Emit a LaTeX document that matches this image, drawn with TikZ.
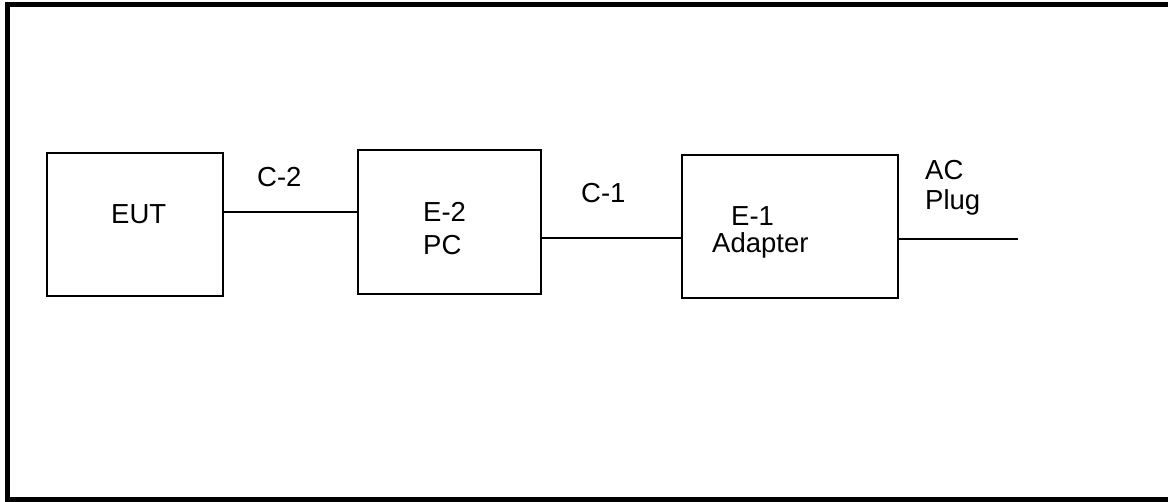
\documentclass[tikz,border=0pt]{standalone}
\usepackage{fontspec}
\setmainfont{Liberation Sans}
\begin{document}
\begin{tikzpicture}[x=1pt,y=-1pt,
  blk/.style={draw=black, line width=1.2pt, inner sep=0pt, rectangle},
  wire/.style={draw=black, line width=1.2pt},
  lbl/.style={anchor=base west, inner sep=0pt, font=\fontsize{27.5}{33}\selectfont}]
\useasboundingbox (0,0) rectangle (1168,502);
\draw[line width=5pt, line join=miter] (1180,4.5) -- (7.5,4.5) -- (7.5,499.5) -- (1180,499.5);
% boxes
\node[blk, minimum width=176pt, minimum height=143pt] (eut) at (135,224.5) {};
\node[blk, minimum width=183pt, minimum height=144pt] (pc) at (449.5,222) {};
\node[blk, minimum width=216pt, minimum height=143pt] (ad) at (790,226.5) {};
\coordinate (plugend) at (1018,239);
% connectors
\draw[wire] (eut.east |- 0,212) -- (pc.west |- 0,212);
\draw[wire] (pc.east |- 0,238) -- (ad.west |- 0,238);
\draw[wire] (ad.east |- plugend) -- (plugend);
% texts
\node[lbl] (teut) at (111,223.5) {EUT};
\node[lbl] (te2) at (423,222) {E-2};
\node[lbl] (tpc) at (423,255) {PC};
\node[lbl] (te1) at (731,226) {E-1};
\node[lbl] (tad) at (712,253) {Adapter};
\node[lbl] (tc2) at (257,187) {C-2};
\node[lbl] (tc1) at (581,203) {C-1};
\node[lbl] (tac) at (925,180) {AC};
\node[lbl] (tplug) at (925,210) {Plug};
\end{tikzpicture}
\end{document}
